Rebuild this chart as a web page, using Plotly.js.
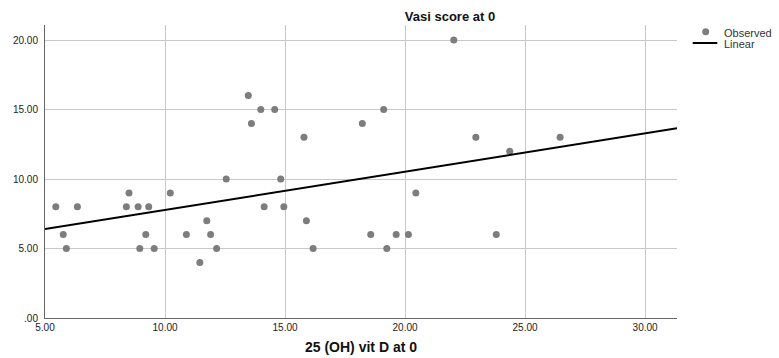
<!DOCTYPE html>
<html><head><meta charset="utf-8">
<script src="https://cdn.plot.ly/plotly-3.0.1.min.js"></script>
<style>html,body{margin:0;padding:0;background:#fff}</style>
</head><body>
<div id="chart" style="width:779px;height:358px"></div>
<script>
var vitD = [5.45,5.76,5.89,6.35,8.39,8.5,8.88,8.95,9.2,9.32,9.55,10.22,10.89,11.45,11.74,11.9,12.15,12.55,13.47,13.6,13.99,14.13,14.57,14.82,14.95,15.79,15.89,16.17,18.22,18.57,19.11,19.24,19.63,20.14,20.45,22.03,22.95,23.8,24.36,26.46];
var vasi = [8,6,5,8,8,9,8,5,6,8,5,9,6,4,7,6,5,10,16,14,15,8,15,10,8,13,7,5,14,6,15,5,6,6,9,20,13,6,12,13];
var fitX = [5, 31.33];
var fitY = [6.4, 13.65];
var xTicks = [5,10,15,20,25,30];
var xTickText = ["5.00","10.00","15.00","20.00","25.00","30.00"];
var yTicks = [0,5,10,15,20];
var yTickText = [".00","5.00","10.00","15.00","20.00"];
var legendNames = ["Observed", "Linear"];

var W = 779, H = 358, L = 45, R = 102, T = 25, B = 40;
var pw = W - L - R, ph = H - T - B;
function px(x){ return (x - L) / pw; }
function py(y){ return (H - B - y) / ph; }

var font = "Liberation Sans, Arial, sans-serif";
var markerColor = "rgb(125,125,125)";
var data = [
  {x: vitD, y: vasi, mode: "markers", type: "scatter", name: legendNames[0],
   marker: {color: markerColor, size: 7}},
  {x: fitX, y: fitY, mode: "lines", type: "scatter", name: legendNames[1],
   line: {color: "#000", width: 2}}
];
var layout = {
  width: W, height: H,
  margin: {l: L, r: R, t: T, b: B},
  paper_bgcolor: "#fff", plot_bgcolor: "#fff",
  font: {family: font, size: 10, color: "#222"},
  showlegend: false,
  title: {text: "<b>Vasi score at 0</b>", font: {family: font, size: 13, color: "#111"},
          x: 450/W, xanchor: "center", y: 1 - 16/H, yanchor: "middle"},
  xaxis: {range: [5, 31.33], tickvals: xTicks, ticktext: xTickText,
          showgrid: true, gridcolor: "#c8c8c8", gridwidth: 1,
          showline: true, linecolor: "#666", linewidth: 1, zeroline: false,
          ticks: "", tickfont: {size: 10, color: "#222"},
          title: {text: "<b>25 (OH) vit D at 0</b>", font: {family: font, size: 14, color: "#111"}, standoff: 10}},
  yaxis: {range: [0, 21.08], tickvals: yTicks, ticktext: yTickText,
          showgrid: true, gridcolor: "#c8c8c8", gridwidth: 1,
          showline: true, linecolor: "#666", linewidth: 1, zeroline: false,
          ticks: "", ticklabelstandoff: 4, tickfont: {size: 10, color: "#222"}},
  shapes: [
    {type: "circle", xref: "paper", yref: "paper",
     x0: px(702.2), x1: px(709.2), y0: py(35.2), y1: py(28.2),
     fillcolor: markerColor, line: {width: 0}},
    {type: "line", xref: "paper", yref: "paper",
     x0: px(692.7), x1: px(717.3), y0: py(43), y1: py(43),
     line: {color: "#000", width: 2}}
  ],
  annotations: [
    {text: legendNames[0], xref: "paper", yref: "paper", x: px(722), y: py(32.5),
     xanchor: "left", yanchor: "middle", showarrow: false,
     font: {family: font, size: 11, color: "#333"}},
    {text: legendNames[1], xref: "paper", yref: "paper", x: px(722), y: py(44),
     xanchor: "left", yanchor: "middle", showarrow: false,
     font: {family: font, size: 11, color: "#333"}}
  ]
};
Plotly.newPlot("chart", data, layout, {displayModeBar: false});
</script>
</body></html>
